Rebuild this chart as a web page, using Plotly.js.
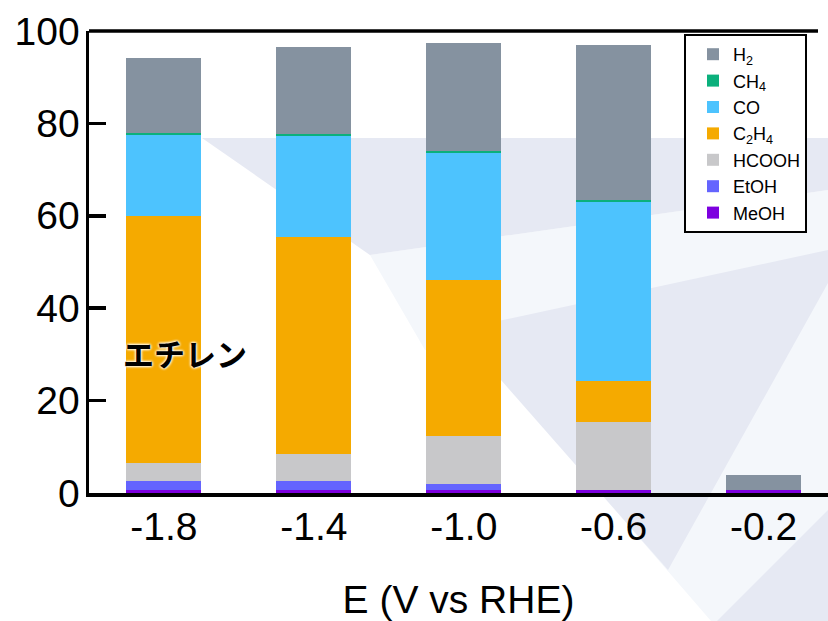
<!DOCTYPE html>
<html>
<head>
<meta charset="utf-8">
<script src="https://cdn.plot.ly/plotly-3.0.1.min.js"></script>
<style>html,body{margin:0;padding:0;background:#fff;}#chart{width:828px;height:621px;}</style>
</head>
<body>
<div id="chart"></div>
<script>
// Potential (V vs RHE) categories and tick labels
const potentials = [-1.8, -1.4, -1.0, -0.6, -0.2];
const tickLabels = ["-1.8", "-1.4", "-1.0", "-0.6", "-0.2"];

// Faradaic efficiency (%) per product, stacked bottom to top
const MeOH  = [0.6, 0.6, 0.6, 0.6, 0.6];
const EtOH  = [1.9, 2.0, 1.45, 0, 0];
const HCOOH = [4.1, 5.9, 10.35, 14.7, 0];
const C2H4  = [53.4, 47.0, 33.7, 9.0, 0];
const CO    = [17.5, 21.8, 27.4, 38.7, 0];
const CH4   = [0.5, 0.4, 0.5, 0.4, 0];
const H2    = [16.2, 18.9, 23.5, 33.6, 3.2];

const seriesNames  = ["MeOH", "EtOH", "HCOOH", "C<sub>2</sub>H<sub>4</sub>", "CO", "CH<sub>4</sub>", "H<sub>2</sub>"];
const seriesValues = [MeOH, EtOH, HCOOH, C2H4, CO, CH4, H2];
const seriesColors = ["#7d00df", "#6464fe", "#c8c8ca", "#f5aa00", "#4dc3fe", "#0bb07c", "#8592a0"];

const traces = seriesNames.map((n, i) => ({
  type: "bar",
  name: n,
  x: potentials,
  y: seriesValues[i],
  width: 0.2,
  marker: {color: seriesColors[i], line: {width: 0}},
  hoverinfo: "skip"
}));

// faint background watermark (pixel polygons -> paper coords)
const L = 89, W = 739, B = 493, H = 462;
function poly(pts) {
  return pts.map((p, i) => (i ? "L" : "M") + ((p[0]-L)/W).toFixed(4) + "," + ((B-p[1])/H).toFixed(4)).join(" ") + " Z";
}
const dark = "#e6e9f3", light = "#f4f7fb";
const shapes = [
  {type:"path", xref:"paper", yref:"paper", layer:"below", line:{width:0}, fillcolor:light,
   path: poly([[370,255],[828,190],[828,621],[711,621],[481,355],[425,350]])},
  {type:"path", xref:"paper", yref:"paper", layer:"below", line:{width:0}, fillcolor:dark,
   path: poly([[202,138],[828,138],[828,190],[370,255]])},
  {type:"path", xref:"paper", yref:"paper", layer:"below", line:{width:0}, fillcolor:dark,
   path: poly([[457,330],[828,250],[828,283],[668,570]])},
  {type:"path", xref:"paper", yref:"paper", layer:"below", line:{width:0}, fillcolor:dark,
   path: poly([[717,621],[828,510],[828,621]])},
  // top spine
  {type:"line", xref:"paper", yref:"paper", x0:0, x1:(818-L)/W, y0:1, y1:1, layer:"above",
   line:{color:"#000", width:3.5}}
];

const tickFont = {family:"Liberation Sans, Arial, sans-serif", size:39, color:"#000"};

const layout = {
  width: 828, height: 621,
  margin: {l: 89, r: 0, t: 31, b: 128, pad: 0},
  paper_bgcolor: "rgba(0,0,0,0)",
  plot_bgcolor: "rgba(0,0,0,0)",
  barmode: "stack",
  bargap: 0,
  showlegend: true,
  xaxis: {
    range: [-2.0, -0.028],
    tickmode: "array", tickvals: potentials, ticktext: tickLabels,
    ticks: "", showgrid: false, zeroline: false,
    showline: true, linecolor: "#000", linewidth: 3.5,
    tickfont: tickFont, ticklabelstandoff: -3,
    title: {text: "E (V vs RHE)", font: tickFont, standoff: 42}
  },
  yaxis: {
    range: [0, 100],
    tickvals: [0, 20, 40, 60, 80, 100],
    ticks: "inside", ticklen: 17, tickwidth: 3.5, tickcolor: "#000",
    showgrid: false, zeroline: false,
    showline: true, linecolor: "#000", linewidth: 3.5,
    tickfont: tickFont, ticklabelstandoff: -2
  },
  legend: {
    x: (684-L)/W, y: (B-34)/H, xanchor: "left", yanchor: "top",
    bgcolor: "#fff", bordercolor: "#000", borderwidth: 2,
    traceorder: "reversed", indentation: 7,
    font: {family:"Liberation Sans, Arial, sans-serif", size:18, color:"#000"}
  },
  shapes: shapes,
  annotations: [{
    x: -1.745, y: 30.5, xref: "x", yref: "y", showarrow: false,
    text: "エチレン",
    font: {family: "Noto Sans CJK JP, sans-serif", size: 31, color: "#000", weight: "bold",
           shadow: "0px 0px 3px #fff, 0px 0px 3px #fff, 0px 0px 3px #fff"}
  }]
};

Plotly.newPlot("chart", traces, layout, {displayModeBar: false, staticPlot: true});
</script>
</body>
</html>
